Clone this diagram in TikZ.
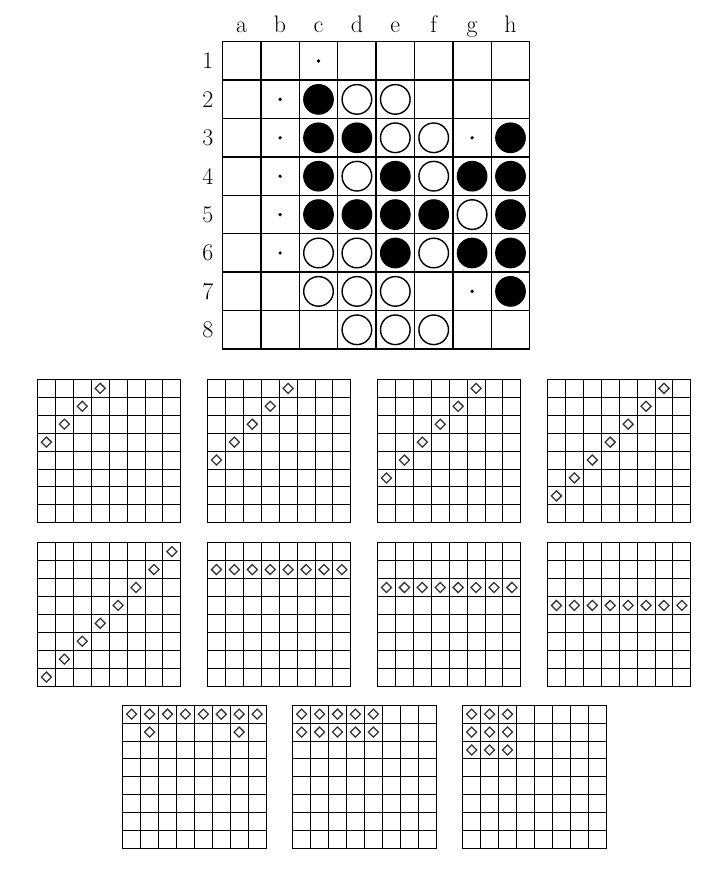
\documentclass[tikz,border=0pt]{standalone}
\usepackage{tikz}
\usetikzlibrary{calc}
\tikzset{
    boardline/.style={line width=1pt, draw=black},
    smallline/.style={line width=0.7pt, draw=black},
    blackdisc/.style={fill=black, draw=black, line width=0.8pt},
    whitedisc/.style={fill=white, draw=black, line width=1pt},
    hint/.style={fill=black},
    rune/.style={line width=0.9pt, draw=black!80, line join=miter},
    coordlabel/.style={font=\fontsize{17}{20}\selectfont, text=black, inner sep=0pt}
}

\begin{document}
\begin{tikzpicture}

    \useasboundingbox (0,0) rectangle (18,21.9);

    % =========================================================================
    % MAIN BOARD: position after the move, with legal moves marked by dots
    % =========================================================================
    \begin{scope}[shift={(5.5625,20.855)}, x=0.96cm, y=-0.96cm]
        % Grid
        \foreach \k in {1,...,7} {
            \draw[boardline] (\k,0) -- (\k,8);
            \draw[boardline] (0,\k) -- (8,\k);
        }
        \draw[boardline] (0,0) rectangle (8,8);

        % Column and row labels
        \foreach \l [count=\i from 0] in {a,b,c,d,e,f,g,h}
            \node[coordlabel, anchor=base] (col-\l) at (\i+0.5,-0.23) {\l};
        \foreach \i in {1,...,8}
            \node[coordlabel] (row-\i) at (-0.38,\i-0.5) {\i};

        % Black stones
        \foreach \c/\r in {2/1, 2/2, 3/2, 7/2, 2/3, 4/3, 6/3, 7/3,
                           2/4, 3/4, 4/4, 5/4, 7/4, 4/5, 6/5, 7/5, 7/6}
            \filldraw[blackdisc] (\c+0.5,\r+0.5) circle (0.37cm);

        % White stones
        \foreach \c/\r in {3/1, 4/1, 4/2, 5/2, 3/3, 5/3, 6/4, 2/5,
                           3/5, 5/5, 2/6, 3/6, 4/6, 3/7, 4/7, 5/7}
            \filldraw[whitedisc] (\c+0.5,\r+0.5) circle (0.37cm);

        % Legal moves
        \foreach \c/\r in {2/0, 1/1, 1/2, 1/3, 1/4, 1/5, 6/2, 6/6}
            \fill[hint] (\c+0.5,\r+0.5) circle (1.3pt);
    \end{scope}

    % =========================================================================
    % SMALL BOARDS: the eleven patterns (diagonals, rows, blocks)
    % =========================================================================
    \foreach \bx/\by/\cells in {
        0.9375/12.415/{3/0,2/1,1/2,0/3},
        5.1875/12.415/{4/0,3/1,2/2,1/3,0/4},
        9.4375/12.415/{5/0,4/1,3/2,2/3,1/4,0/5},
        13.6875/12.415/{6/0,5/1,4/2,3/3,2/4,1/5,0/6},
        0.9375/8.3325/{7/0,6/1,5/2,4/3,3/4,2/5,1/6,0/7},
        5.1875/8.3325/{0/1,1/1,2/1,3/1,4/1,5/1,6/1,7/1},
        9.4375/8.3325/{0/2,1/2,2/2,3/2,4/2,5/2,6/2,7/2},
        13.6875/8.3325/{0/3,1/3,2/3,3/3,4/3,5/3,6/3,7/3},
        3.0675/4.27/{0/0,1/0,2/0,3/0,4/0,5/0,6/0,7/0,1/1,6/1},
        7.3175/4.27/{0/0,1/0,2/0,3/0,4/0,0/1,1/1,2/1,3/1,4/1},
        11.5675/4.27/{0/0,1/0,2/0,0/1,1/1,2/1,0/2,1/2,2/2}}
    {
        \begin{scope}[shift={(\bx,\by)}, x=0.448cm, y=-0.448cm]
            \foreach \k in {1,...,7} {
                \draw[smallline] (\k,0) -- (\k,8);
                \draw[smallline] (0,\k) -- (8,\k);
            }
            \draw[smallline] (0,0) rectangle (8,8);
            \foreach \c/\r in \cells
                \draw[rune] (\c+0.5,\r+0.22) -- (\c+0.78,\r+0.5)
                    -- (\c+0.5,\r+0.78) -- (\c+0.22,\r+0.5) -- cycle;
        \end{scope}
    }
\end{tikzpicture}
\end{document}
